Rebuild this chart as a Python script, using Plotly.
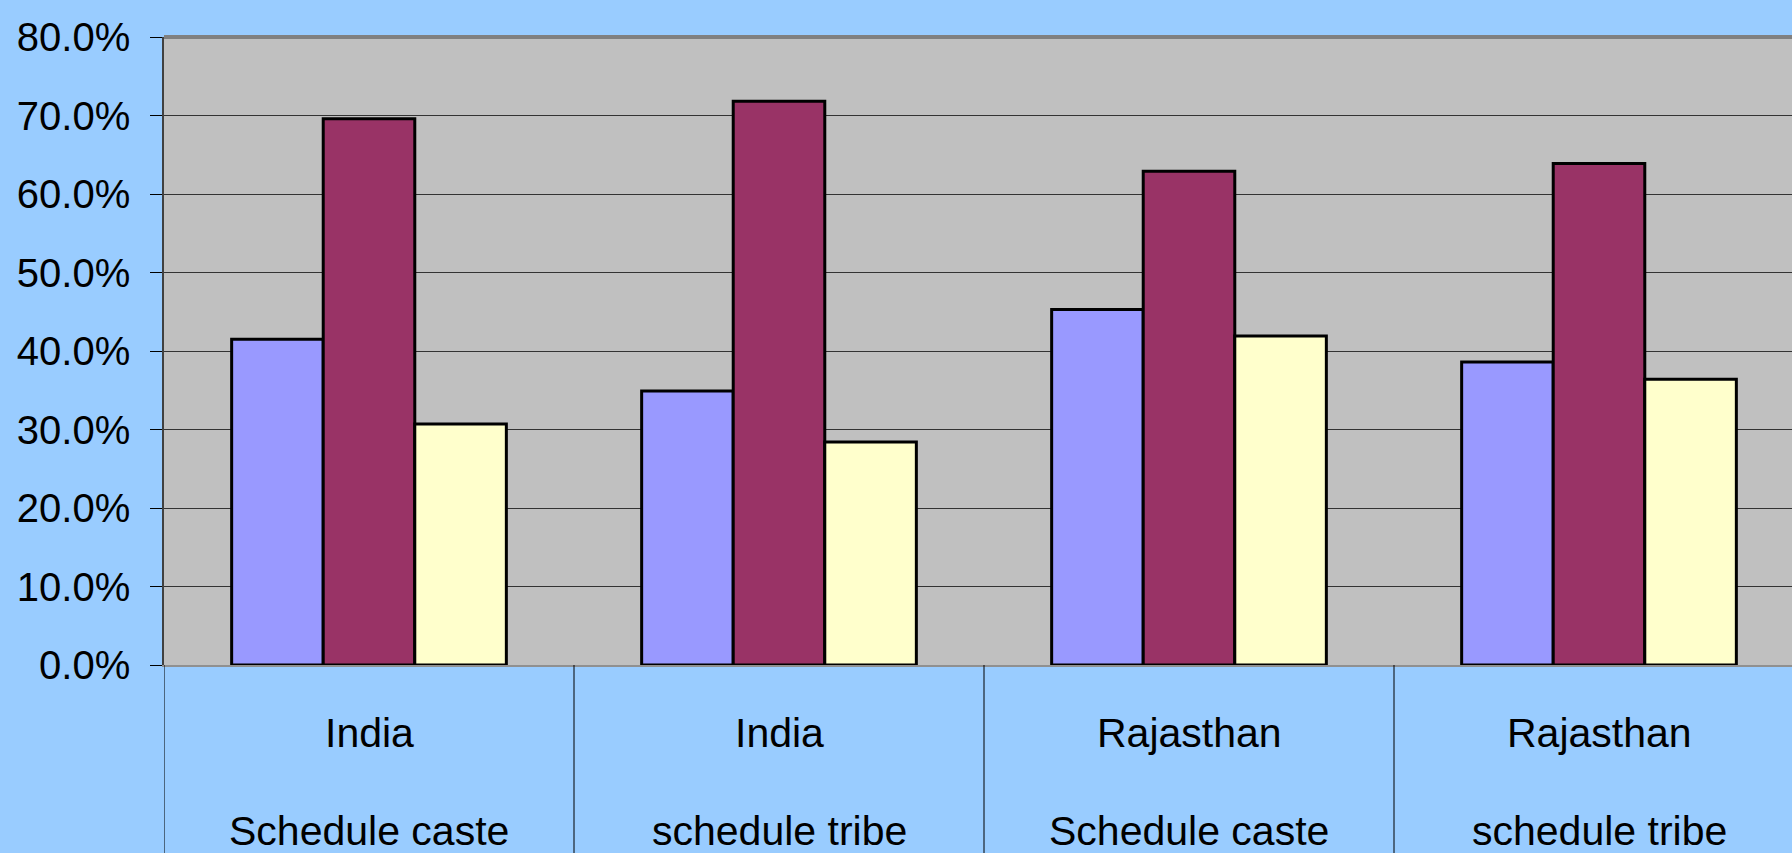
import plotly.graph_objects as go

line1 = ["India", "India", "Rajasthan", "Rajasthan"]
line2 = ["Schedule caste", "schedule tribe", "Schedule caste", "schedule tribe"]
series_a = [0.415, 0.349, 0.453, 0.386]
series_b = [0.696, 0.718, 0.629, 0.639]
series_c = [0.307, 0.284, 0.419, 0.364]
y_ticks = [0.0, 0.1, 0.2, 0.3, 0.4, 0.5, 0.6, 0.7, 0.8]

x = list(range(len(line1)))
colors = ["#9999FF", "#993366", "#FFFFCC"]
fig = go.Figure()
for vals, col, nm in zip([series_a, series_b, series_c], colors, ["A", "B", "C"]):
    fig.add_trace(go.Bar(x=x, y=vals, name=nm, marker=dict(color=col, line=dict(color="black", width=3))))

FONT = "Liberation Sans, Arial, sans-serif"
FS = 40
W, H = 1792, 853
L, T, B = 164, 37, 188
plot_h = H - T - B
unit = 410.0
xmax = -0.5 + (W - L) / unit

shapes = []
for xv in [-0.5, 0.5, 1.5, 2.5]:
    shapes.append(dict(type="line", xref="x", yref="paper", x0=xv, x1=xv, y0=0, y1=-B / plot_h - 0.01,
                       line=dict(color="black", width=1)))
shapes.append(dict(type="line", xref="paper", yref="paper", x0=0, x1=1, y0=1, y1=1,
                   line=dict(color="#808080", width=4)))

annotations = []
for i in x:
    annotations.append(dict(x=i, y=0, xref="x", yref="paper", text=line1[i], showarrow=False,
                            yanchor="middle", yshift=-68, font=dict(family=FONT, size=41, color="black")))
    annotations.append(dict(x=i, y=0, xref="x", yref="paper", text=line2[i], showarrow=False,
                            yanchor="middle", yshift=-166, font=dict(family=FONT, size=41, color="black")))

fig.update_layout(
    width=W, height=H,
    margin=dict(l=L, r=0, t=T, b=B, pad=0),
    paper_bgcolor="#99CCFF", plot_bgcolor="#C0C0C0",
    barmode="group", bargap=0.33, bargroupgap=0,
    showlegend=False,
    font=dict(family=FONT, size=FS, color="black"),
    shapes=shapes, annotations=annotations,
    xaxis=dict(range=[-0.5, xmax], showticklabels=False, showgrid=False, zeroline=False,
               showline=True, linecolor="#909090", linewidth=2, ticks=""),
    yaxis=dict(range=[0, 0.8], tickvals=y_ticks, tickformat=".1%", showgrid=True,
               gridcolor="#333333", gridwidth=1, zeroline=False, showline=True,
               linecolor="#404040", linewidth=1.5, ticks="outside", ticklen=12,
               tickcolor="black", tickwidth=1, ticklabelstandoff=12,
               tickfont=dict(family=FONT, size=FS, color="black")),
)
fig.write_html("out.html", config={"displayModeBar": False},
               post_script="document.body.style.margin='0';document.body.style.background='#99CCFF';document.body.style.overflow='hidden';")
